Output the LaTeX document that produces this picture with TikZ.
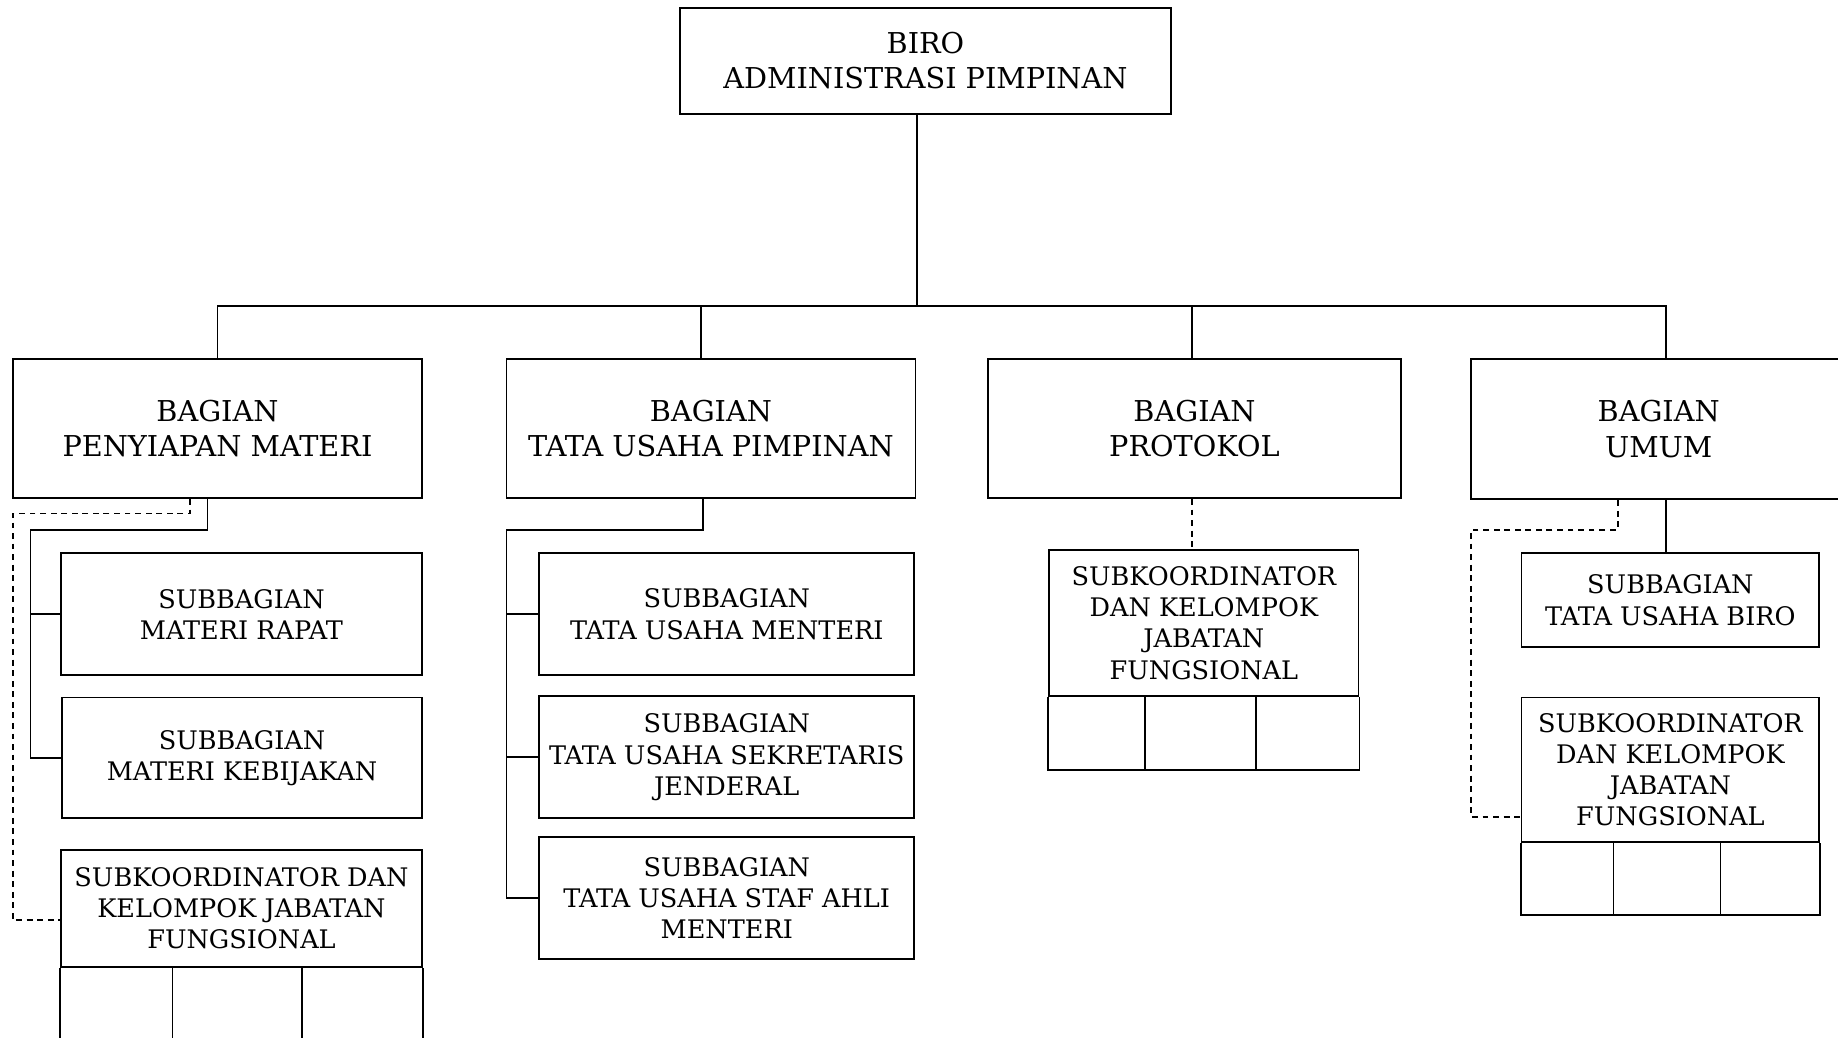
\documentclass[tikz,border=0pt]{standalone}
\usepackage{fontspec}
\setmainfont{DejaVu Serif}
\usetikzlibrary{calc}
\newcommand\myBig{\fontsize{24.5}{30}\selectfont}
\newcommand\mySmall{\fontsize{21.8}{26.6}\selectfont}
\tikzset{
  box/.style={draw, line width=1.5pt, inner sep=0pt, align=center},
  bigbox/.style={box, font=\myBig},
  smallbox/.style={box, font=\mySmall},
  conn/.style={line width=1.5pt},
  dconn/.style={line width=1.5pt, dash pattern=on 5pt off 4pt},
}
\begin{document}
\begin{tikzpicture}[x=1pt,y=-1pt]
\useasboundingbox (0,0) rectangle (1568,885);
\clip (0,0) rectangle (1568,885);
\fill[white] (0,0) rectangle (1568,885);
% level 0
\node[bigbox, minimum width=419, minimum height=90] (top) at (789.5,52) {BIRO\\ADMINISTRASI PIMPINAN};
% level 1
\node[bigbox, minimum width=349, minimum height=119] (b1) at (185.5,365.5) {BAGIAN\\PENYIAPAN MATERI};
\node[bigbox, minimum width=349, minimum height=119] (b2) at (606.5,365.5) {BAGIAN\\TATA USAHA PIMPINAN};
\node[bigbox, minimum width=352, minimum height=119] (b3) at (1019,365.5) {BAGIAN\\PROTOKOL};
\node[bigbox, minimum width=320, minimum height=120] (b4) at (1415,366) {BAGIAN\\UMUM};
% level 2 - B1
\node[smallbox, minimum width=308, minimum height=104] (smr) at (206,524) {SUBBAGIAN\\MATERI RAPAT};
\node[smallbox, minimum width=307, minimum height=103] (smk) at (206.5,646.5) {SUBBAGIAN\\MATERI KEBIJAKAN};
\node[smallbox, minimum width=308, minimum height=100] (sk1) at (206,775) {SUBKOORDINATOR DAN\\KELOMPOK JABATAN\\FUNGSIONAL};
% level 2 - B2
\node[smallbox, minimum width=320, minimum height=104] (stum) at (620,524) {SUBBAGIAN\\TATA USAHA MENTERI};
\node[smallbox, minimum width=320, minimum height=104] (stusj) at (620,646) {SUBBAGIAN\\TATA USAHA SEKRETARIS\\JENDERAL};
\node[smallbox, minimum width=320, minimum height=104] (stusa) at (620,766) {SUBBAGIAN\\TATA USAHA STAF AHLI\\MENTERI};
% level 2 - B3
\node[smallbox, minimum width=264, minimum height=125] (sk3) at (1027,531.5) {SUBKOORDINATOR\\DAN KELOMPOK\\JABATAN\\FUNGSIONAL};
% level 2 - B4
\node[smallbox, minimum width=254, minimum height=80] (stub) at (1425,512) {SUBBAGIAN\\TATA USAHA BIRO};
\node[smallbox, minimum width=254, minimum height=123] (sk4) at (1425,656.5) {SUBKOORDINATOR\\DAN KELOMPOK\\JABATAN\\FUNGSIONAL};
% cells below the subkoordinator boxes
\foreach \n/\h in {sk1/64, sk3/62, sk4/62}{
  \draw[conn] (\n.south west) -- ++(0,\h) -| (\n.south east);
  \draw[conn] ($(\n.south west)!0.31!(\n.south east)$) -- ++(0,\h);
  \draw[conn] ($(\n.south west)!0.667!(\n.south east)$) -- ++(0,\h);
}
% top connectors
\coordinate (hub) at (782,261);
\draw[conn] (top.south -| hub) -- (hub);
\draw[conn] (b1.north) |- (hub) -| ($(b4.north)+(6,0)$);
\coordinate (c2) at ($(b2.north)+(-8.5,0)$);
\draw[conn] (c2) -- (c2 |- hub);
\coordinate (c3t) at ($(b3.north)+(-2,0)$);
\draw[conn] (c3t) -- (c3t |- hub);
% B1 children
\coordinate (p1) at (26,452);
\draw[conn] ($(b1.south)+(-8.5,0)$) |- (p1) |- (smk.west);
\draw[conn] (smr.west) -- (smr.west -| p1);
\coordinate (d1) at (11,438);
\draw[dconn] ($(b1.south)+(-23.5,0)$) |- (d1) |- ($(sk1.west)+(0,10)$);
% B2 children
\coordinate (p2) at (432,452);
\draw[conn] ($(b2.south)+(-6.5,0)$) |- (p2) |- (stusa.west);
\draw[conn] (stum.west) -- (stum.west -| p2);
\draw[conn] (stusj.west) -- (stusj.west -| p2);
% B3 child
\coordinate (c3) at ($(b3.south)+(-2,0)$);
\draw[dconn] (c3) -- (c3 |- sk3.north);
% B4 children
\coordinate (c4) at ($(b4.south)+(6,0)$);
\draw[conn] (c4) -- (c4 |- stub.north);
\coordinate (c4d) at ($(b4.south)+(-35,0)$);
\coordinate (d4) at (1255,452);
\draw[dconn] (c4d) |- (d4) |- ($(sk4.west)+(0,40.5)$);
\end{tikzpicture}
\end{document}
